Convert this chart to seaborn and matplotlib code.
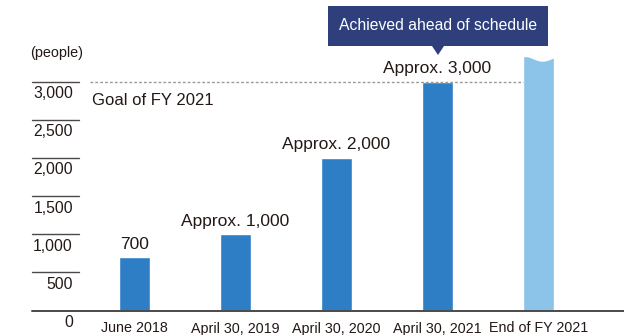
import numpy as np
import pandas as pd
import matplotlib
matplotlib.use("Agg")
import matplotlib.pyplot as plt
from matplotlib.patches import Rectangle, Polygon
from matplotlib.transforms import IdentityTransform, blended_transform_factory
import seaborn as sns

# Data
periods = ["June 2018", "April 30, 2019", "April 30, 2020", "April 30, 2021", "End of FY 2021"]
people = [700, 1000, 2000, 3000, 3340]
value_labels = ["700", "Approx. 1,000", "Approx. 2,000", "Approx. 3,000", ""]
goal_value = 3000
goal_label = "Goal of FY 2021"
y_ticks = [0, 500, 1000, 1500, 2000, 2500, 3000]
y_tick_labels = ["0", "500", "1,000", "1,500", "2,000", "2,500", "3,000"]
unit_label = "(people)"
callout_text = "Achieved ahead of schedule"

DARK_BLUE = "#2E7EC6"
LIGHT_BLUE = "#8CC3E8"
NAVY = "#2E3F7C"
TEXT = "#231815"
LINE = "#4A4A4A"

sns.set_theme(style="white")
plt.rcParams["font.family"] = ["Liberation Sans", "DejaVu Sans"]

W, H = 624, 335
fig = plt.figure(figsize=(W / 100, H / 100), dpi=100)
base_px = 310.5
left_px = 32
ax = fig.add_axes([left_px / W, (H - base_px) / H, (W - left_px) / W, base_px / H])

df = pd.DataFrame({"period": periods, "people": people})
palette = [DARK_BLUE] * 4 + [LIGHT_BLUE]
sns.barplot(data=df, x="period", y="people", hue="period", palette=palette,
            legend=False, width=0.307, ax=ax, saturation=1.0)

ax.set_xlim(-1.015, 4.847)
ax.set_ylim(0, 4068)
ax.set_xlabel("")
ax.set_ylabel("")
ax.set_xticks([])
ax.set_yticks([])
for s in ax.spines.values():
    s.set_visible(False)

# Wavy top on the target bar (open-ended forecast)
last = ax.patches[-1]
x0, w = last.get_x(), last.get_width()
top = last.get_height()
xs = np.linspace(x0 - 0.01, x0 + w + 0.01, 80)
t = np.clip((xs - x0) / w, 0, 1)
wave = top - 40 + 34 * np.cos(2 * np.pi * t * 0.8)
ax.fill_between(xs, wave, top + 200, color="white", zorder=3, lw=0)

# Baseline
ax.axhline(0, color=LINE, lw=1.4, clip_on=False, zorder=4)

# Short tick rules and tick labels on the left
yaxis_tf = blended_transform_factory(ax.transAxes, ax.transData)
rule_end = (79 - left_px) / (W - left_px)
label_x = (73 - left_px) / (W - left_px)
for v, lab in zip(y_ticks, y_tick_labels):
    if v > 0:
        ax.plot([0, rule_end], [v, v], color=LINE, lw=1.0, transform=yaxis_tf, clip_on=False)
    ax.annotate(lab, xy=(label_x, v), xycoords=yaxis_tf, xytext=(0, -12),
                textcoords="offset pixels", ha="right", va="center",
                fontsize=11.3, color=TEXT, annotation_clip=False)

# Unit label
fig.text(30 / W, 1 - 53 / H, unit_label, fontsize=10.4, color=TEXT, ha="left", va="center")

# Category labels
for i, p in enumerate(periods):
    ax.annotate(p, xy=(i, 0), xytext=(0, -18), textcoords="offset pixels",
                ha="center", va="center", fontsize=10.3, color=TEXT, annotation_clip=False)

# Value labels above bars
for i, (v, lab) in enumerate(zip(people, value_labels)):
    if lab:
        ax.annotate(lab, xy=(i, v), xytext=(0, 13), textcoords="offset pixels",
                    ha="center", va="center", fontsize=12.5, color=TEXT, annotation_clip=False)

# Goal line
x_lo = ax.get_xlim()[0]
px_per_cat = 101
ax.hlines(goal_value, x_lo + (90 - left_px) / px_per_cat, x0, colors="#9A9A9A",
          linestyles=(0, (2, 1.5)), lw=1.0, zorder=1)
ax.annotate(goal_label, xy=(x_lo + (92 - left_px) / px_per_cat, goal_value), xytext=(0, -19),
            textcoords="offset pixels", ha="left", va="center", fontsize=12,
            color=TEXT, annotation_clip=False)

# Callout box with pointer
ident = IdentityTransform()
box = Rectangle((328, H - 46), 220, 40, facecolor=NAVY, edgecolor="none", transform=ident)
tri = Polygon([[432, H - 46], [444, H - 46], [438, H - 55]], closed=True,
              facecolor=NAVY, edgecolor="none", transform=ident)
fig.patches.extend([box, tri])
fig.text(438 / W, 1 - 26 / H, callout_text, color="white", fontsize=11.3,
         ha="center", va="center")

fig.savefig("out.png", dpi=100)
